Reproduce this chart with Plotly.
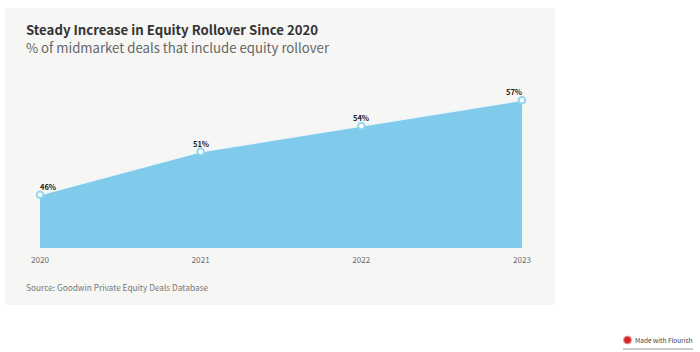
import plotly.graph_objects as go

years = ["2020", "2021", "2022", "2023"]
rollover = [46, 51, 54, 57]
labels = ["46%", "51%", "54%", "57%"]
label_anchor = ["left", "center", "center", "right"]
title = "Steady Increase in Equity Rollover Since 2020"
subtitle = "% of midmarket deals that include equity rollover"
source = "Source: Goodwin Private Equity Deals Database"
credit = "Made with Flourish"

W, H = 700, 352
L, R, T, B = 40, 522, 80, 248
FONT = "Noto Sans CJK SC"

def px(x):
    return (x - L) / (R - L)

def py(y):
    return (B - y) / (B - T)

fig = go.Figure()
fig.add_trace(go.Scatter(
    x=years, y=rollover, mode="lines+markers",
    fill="tozeroy", fillcolor="#80cbeb",
    line=dict(color="#eef6f9", width=1.5),
    marker=dict(size=6.5, color="#ffffff", line=dict(color="#93d4ee", width=2)),
    cliponaxis=False, hoverinfo="skip", showlegend=False,
))

# On a category axis a numeric-looking string is read as an index, so labels use positions.
point_labels = [
    dict(text=f"<b>{t}</b>", x=i, y=v, xref="x", yref="y", xanchor=a, yanchor="bottom",
         yshift=3, showarrow=False, borderpad=0, borderwidth=0,
         font=dict(family=FONT, size=7.5, color="#222222"))
    for i, (v, t, a) in enumerate(zip(rollover, labels, label_anchor))
]

fig.update_layout(
    width=W, height=H, autosize=False,
    margin=dict(l=L, r=W - R, t=T, b=H - B),
    paper_bgcolor="#ffffff", plot_bgcolor="rgba(0,0,0,0)",
    font=dict(family=FONT),
    xaxis=dict(type="category", range=[0, 3], showgrid=False, zeroline=False,
               showline=False, ticks="outside", ticklen=4, tickcolor="rgba(0,0,0,0)",
               tickfont=dict(family=FONT, size=8.2, color="#707070")),
    yaxis=dict(range=[39.8, 59.35], visible=False),
    shapes=[
        dict(type="rect", xref="paper", yref="paper", layer="below",
             x0=px(5), x1=px(555), y0=py(305), y1=py(8),
             fillcolor="#f6f6f5", line=dict(width=0)),
        dict(type="circle", xref="paper", yref="paper",
             x0=px(623.5), x1=px(631.5), y0=py(344), y1=py(336),
             fillcolor="#d8262c", line=dict(color="#f0a0a0", width=1)),
        dict(type="line", xref="paper", yref="paper",
             x0=px(623), x1=px(693), y0=py(349), y1=py(349),
             line=dict(color="#999999", width=1)),
    ],
    annotations=point_labels + [
        dict(text=f"<b>{title}</b>", x=px(26), y=py(29.5), xref="paper", yref="paper",
             xanchor="left", yanchor="middle", showarrow=False, borderpad=0, borderwidth=0,
             font=dict(family=FONT, size=13.2, color="#333333")),
        dict(text=subtitle, x=px(26), y=py(47.5), xref="paper", yref="paper",
             xanchor="left", yanchor="middle", showarrow=False, borderpad=0, borderwidth=0,
             font=dict(family=FONT, size=13.2, color="#666666")),
        dict(text=source, x=px(26), y=py(287), xref="paper", yref="paper",
             xanchor="left", yanchor="middle", showarrow=False, borderpad=0, borderwidth=0,
             font=dict(family=FONT, size=8.3, color="#777777")),
        dict(text=credit, x=px(634.5), y=py(340), xref="paper", yref="paper",
             xanchor="left", yanchor="middle", showarrow=False, borderpad=0, borderwidth=0,
             font=dict(family=FONT, size=6.5, color="#444444")),
    ],
)

fig.write_html("out.html", config=dict(displayModeBar=False),
               post_script="document.body.style.margin='0';document.body.style.overflow='hidden';")
